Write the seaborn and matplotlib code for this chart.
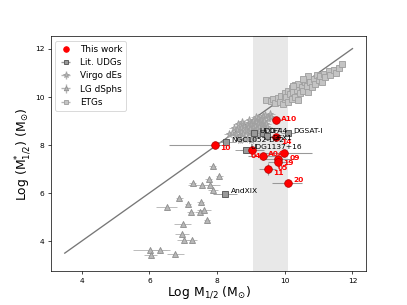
import matplotlib
matplotlib.use("Agg")
import matplotlib.pyplot as plt
import seaborn as sns
import numpy as np
import pandas as pd

# ---------------- data ----------------
tw_names = ["A10", "14", "10", "04", "A04", "09", "19", "05", "11", "20"]
tw_x = [9.75, 9.75, 7.93, 9.04, 9.36, 9.99, 9.80, 9.80, 9.49, 10.11]
tw_y = [9.02, 8.31, 8.01, 7.80, 7.52, 7.66, 7.43, 7.30, 6.99, 6.43]
tw_xerr_lo = [0.10, 0.15, 1.35, 0.35, 0.45, 0.60, 0.40, 0.30, 0.25, 0.50]
tw_xerr_hi = [0.10, 0.15, 0.30, 0.35, 0.40, 0.80, 0.50, 0.30, 0.25, 0.40]
tw_yerr = [0.10, 0.10, 0.10, 0.10, 0.15, 0.10, 0.10, 0.20, 0.25, 0.10]

udg_names = ["NGC1052-DF2", "UDG1137+16", "AndXIX", "UDG7", "DF44", "DGSAT-I", "DFX1"]
udg_x = [8.25, 8.84, 8.24, 9.10, 9.37, 10.10, 9.48]
udg_y = [8.12, 7.80, 5.97, 8.48, 8.48, 8.48, 8.35]
udg_xerr = [0.30, 0.30, 0.35, 0.20, 0.20, 0.20, 0.20]

virgo_x = [8.35, 8.45, 8.55, 8.60, 8.65, 8.70, 8.72, 8.78, 8.80, 8.85, 8.88, 8.90,
           8.93, 8.95, 8.98, 9.00, 9.02, 9.05, 9.07, 9.10, 9.12, 9.15, 9.17, 9.20,
           9.22, 9.25, 9.27, 9.30, 9.33, 9.35, 9.38, 9.40, 9.43, 9.45, 9.50, 9.55,
           9.60, 9.00, 9.10, 9.20, 8.50, 8.62, 8.75, 8.95, 9.15, 9.32, 9.48, 8.82,
           8.68, 9.05]
virgo_y = [8.45, 8.50, 8.40, 8.60, 8.35, 8.55, 8.70, 8.45, 8.80, 8.60, 8.30, 8.75,
           8.90, 8.50, 8.65, 8.85, 8.40, 8.70, 9.00, 8.55, 8.80, 8.95, 8.65, 8.85,
           9.10, 8.75, 8.95, 9.05, 8.80, 9.20, 8.90, 9.00, 9.25, 8.85, 9.10, 9.30,
           9.15, 8.20, 8.30, 8.45, 8.70, 8.85, 8.95, 9.05, 9.15, 8.65, 8.75, 8.25,
           8.20, 8.55]

lg_x = [7.87, 7.75, 8.07, 7.28, 7.55, 7.80, 7.87, 6.89, 6.51, 7.14, 7.22, 7.52,
        7.50, 7.62, 7.70, 6.99, 6.96, 7.01, 7.25, 6.02, 6.32, 6.04, 6.76]
lg_y = [7.11, 6.59, 6.72, 6.41, 6.32, 6.32, 6.14, 5.79, 5.41, 5.55, 5.23, 5.62,
        5.21, 5.31, 4.89, 4.72, 4.31, 4.03, 4.03, 3.64, 3.64, 3.41, 3.45]
lg_xerr = [0.10, 0.10, 0.10, 0.10, 0.40, 0.30, 0.15, 0.10, 0.30, 0.10, 0.10, 0.10,
           0.15, 0.20, 0.10, 0.25, 0.20, 0.20, 0.15, 0.50, 0.30, 0.20, 0.25]

etg_x = [9.45, 9.60, 9.65, 9.70, 9.80, 9.85, 9.90, 9.95, 10.00, 10.00, 10.05, 10.10,
         10.10, 10.15, 10.20, 10.20, 10.25, 10.30, 10.30, 10.35, 10.40, 10.40, 10.45,
         10.50, 10.55, 10.60, 10.65, 10.70, 10.70, 10.75, 10.80, 10.85, 10.90, 10.95,
         11.00, 11.05, 11.10, 11.15, 11.20, 11.30, 11.35, 11.45, 11.50, 11.60, 11.70,
         10.55, 10.25]
etg_y = [9.88, 9.82, 9.90, 9.75, 9.95, 9.80, 10.05, 9.70, 9.90, 10.15, 10.00, 9.80,
         10.25, 10.10, 9.90, 10.35, 10.20, 10.00, 10.50, 10.30, 9.85, 10.55, 10.15,
         10.40, 10.25, 10.60, 10.45, 10.85, 10.20, 10.60, 10.40, 10.75, 10.55, 10.90,
         10.70, 10.85, 10.60, 10.95, 10.80, 11.05, 10.90, 11.10, 11.00, 11.20, 11.35,
         10.75, 10.45]

# label offsets (points) for annotations
tw_offsets = [(5.7, 2.3), (5.7, -4.5), (5.7, -3.4), (-1.7, -7.2), (5.7, 3.4),
              (5.7, -4.9), (5.7, -5.0), (-0.8, -6.8), (6.1, -4.5), (5.7, 3.4)]
udg_offsets = [(6, 3), (6, 3), (6, 3), (6, 3), (6, 3), (6, 3), (6, -1)]

# ---------------- plot ----------------
fig, ax = plt.subplots(figsize=(6.4, 4.8), dpi=63.6)

ax.axvspan(9.05, 10.1, color="#e8e8e8", zorder=0, lw=0)
ax.plot([3.5, 12], [3.5, 12], color="#777777", lw=1.5, zorder=1)

ecol = "#b5b5b5"
ax.errorbar(etg_x, etg_y, xerr=0.08, fmt="s", ms=7, mfc="#c4c4c4", mec="#a0a0a0",
            ecolor=ecol, elinewidth=1, capsize=0, zorder=2)
ax.errorbar(virgo_x, virgo_y, xerr=0.15, yerr=0.12, fmt="*", ms=8, mfc="#b8b8b8",
            mec="#a0a0a0", ecolor=ecol, elinewidth=1, capsize=0, zorder=2)
ax.errorbar(lg_x, lg_y, xerr=lg_xerr, yerr=0.12, fmt="^", ms=6.5, mfc="#b8b8b8",
            mec="#909090", ecolor=ecol, elinewidth=1, capsize=0, zorder=2)
ax.errorbar(udg_x, udg_y, xerr=udg_xerr, fmt="s", ms=6.5, mfc="#999999", mec="#555555",
            ecolor="#999999", elinewidth=1, capsize=0, zorder=3)
ax.errorbar(tw_x, tw_y, xerr=[tw_xerr_lo, tw_xerr_hi], yerr=tw_yerr, fmt="none",
            ecolor="#999999", elinewidth=1.2, capsize=0, zorder=3)

df_tw = pd.DataFrame({"x": tw_x, "y": tw_y})
sns.scatterplot(data=df_tw, x="x", y="y", ax=ax, color="red", edgecolor="#b00000",
                s=75, linewidth=0.8, zorder=5, legend=False)

for n, x, y, off in zip(tw_names, tw_x, tw_y, tw_offsets):
    ax.annotate(n, (x, y), xytext=off, textcoords="offset points", color="red",
                fontsize=8.5, fontweight="bold", va="center", ha="left", zorder=6)
for n, x, y, off in zip(udg_names, udg_x, udg_y, udg_offsets):
    ax.annotate(n, (x, y), xytext=off, textcoords="offset points", color="black",
                fontsize=8.5, va="center", ha="left", zorder=6)

# legend handles
h_tw = ax.scatter([], [], color="red", s=40)
hs = ax.errorbar([], [], xerr=[], fmt="s", ms=5, mfc="#999999", mec="#555555",
                 ecolor="#999999")
hv = ax.errorbar([], [], xerr=[], yerr=[], fmt="*", ms=6, mfc="#b8b8b8", mec="#a0a0a0",
                 ecolor=ecol)
hl = ax.errorbar([], [], xerr=[], yerr=[], fmt="^", ms=5, mfc="#b8b8b8", mec="#909090",
                 ecolor=ecol)
he = ax.errorbar([], [], xerr=[], fmt="s", ms=5, mfc="#c4c4c4", mec="#a0a0a0",
                 ecolor=ecol)
handles = [h_tw, hs, hv, hl, he]
labels = ["This work", "Lit. UDGs", "Virgo dEs", "LG dSphs", "ETGs"]
ax.legend(handles, labels, loc="upper left", fontsize=10, handlelength=1.6)

ax.set_xlim(3.09, 12.41)
ax.set_ylim(2.74, 12.51)
ax.set_xticks([4, 6, 8, 10, 12])
ax.set_yticks([4, 6, 8, 10, 12])
ax.tick_params(labelsize=8.5)
ax.set_xlabel(r"Log M$_{1/2}$ (M$_{\odot}$)", fontsize=14, labelpad=1)
ax.set_ylabel(r"Log (M$^{*}_{1/2}$) (M$_{\odot}$)", fontsize=14, labelpad=3)

fig.savefig("out.png", dpi=63.6)
